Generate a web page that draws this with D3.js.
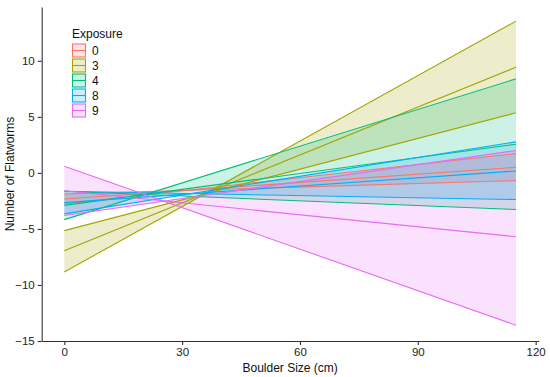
<!DOCTYPE html>
<html>
<head>
<meta charset="utf-8">
<script src="https://cdn.jsdelivr.net/npm/d3@7"></script>
<style>
  body { margin: 0; background: #fff; }
  text { font-family: "Liberation Sans", Arial, sans-serif; }
</style>
</head>
<body>
<div id="chart"></div>
<script>
// boulder sizes where each fitted line / band edge was read
var boulderX = [0, 115];

var exposures = ["0", "3", "4", "8", "9"];
var colours = ["#F8766D", "#A3A500", "#00BF7D", "#00B0F6", "#E76BF3"];

// fitted line and the two band edges per exposure (values at boulderX)
var fit0 = [-2.33, 0.5],  edgeA0 = [-2.77, 1.72],  edgeB0 = [-1.88, -0.69];
var fit3 = [-6.94, 9.43], edgeA3 = [-5.15, 5.36],  edgeB3 = [-8.84, 13.54];
var fit4 = [-2.9, 2.56],  edgeA4 = [-4.17, 8.39],  edgeB4 = [-1.64, -3.27];
var fit8 = [-2.65, 0.17], edgeA8 = [-3.66, 2.77],  edgeB8 = [-1.64, -2.38];
var fit9 = [-1.6, -5.7],  edgeA9 = [0.6, -13.6],   edgeB9 = [-3.8, 2.0];

var xTicks = [0, 30, 60, 90, 120];
var yTicks = [-15, -10, -5, 0, 5, 10];

var fits = [fit0, fit3, fit4, fit8, fit9];
var edgesA = [edgeA0, edgeA3, edgeA4, edgeA8, edgeA9];
var edgesB = [edgeB0, edgeB3, edgeB4, edgeB8, edgeB9];

var groups = exposures.map(function(e, i) {
  return {
    name: e,
    colour: colours[i],
    pts: boulderX.map(function(x, j) {
      return {x: x, fit: fits[i][j], a: edgesA[i][j], b: edgesB[i][j]};
    })
  };
});

var width = 550, height = 377;

var svg = d3.select("#chart").append("svg")
  .attr("width", width)
  .attr("height", height);

var xScale = d3.scaleLinear().domain([-5.75, 120.75]).range([41.7, 538.6]);
var yScale = d3.scaleLinear().domain([-15, 14.8]).range([341, 7]);

var band = d3.area()
  .x(function(d) { return xScale(d.x); })
  .y0(function(d) { return yScale(d.a); })
  .y1(function(d) { return yScale(d.b); });

var lineOf = function(key) {
  return d3.line()
    .x(function(d) { return xScale(d.x); })
    .y(function(d) { return yScale(d[key]); });
};

// ribbons
var g = svg.append("g");
groups.forEach(function(grp) {
  g.append("path")
    .attr("d", band(grp.pts))
    .attr("fill", grp.colour)
    .attr("fill-opacity", 0.2)
    .attr("stroke", "none");
});
groups.forEach(function(grp) {
  ["a", "b", "fit"].forEach(function(k) {
    g.append("path")
      .attr("d", lineOf(k)(grp.pts))
      .attr("fill", "none")
      .attr("stroke", grp.colour)
      .attr("stroke-width", 1.1);
  });
});

// axes
var xAxis = d3.axisBottom(xScale).tickValues(xTicks).tickSize(4).tickPadding(3).tickSizeOuter(0);
var yAxis = d3.axisLeft(yScale).tickValues(yTicks).tickSize(4).tickPadding(3).tickSizeOuter(0);

var gx = svg.append("g")
  .attr("transform", "translate(0," + 341 + ")")
  .call(xAxis);
var gy = svg.append("g")
  .attr("transform", "translate(" + 41.7 + ",0)")
  .call(yAxis);

[gx, gy].forEach(function(ax) {
  ax.select(".domain").attr("stroke", "#333").attr("stroke-width", 1.1);
  ax.selectAll(".tick line").attr("stroke", "#333").attr("stroke-width", 1.1);
  ax.selectAll(".tick text").attr("fill", "#222").style("font-size", "11.5px");
});

svg.append("text")
  .attr("x", (41.7 + 538.6) / 2)
  .attr("y", 372)
  .attr("text-anchor", "middle")
  .attr("fill", "#111")
  .style("font-size", "12px")
  .text("Boulder Size (cm)");

svg.append("text")
  .attr("transform", "translate(14," + ((7 + 341) / 2) + ") rotate(-90)")
  .attr("text-anchor", "middle")
  .attr("fill", "#111")
  .style("font-size", "12px")
  .text("Number of Flatworms");

// legend
var legend = svg.append("g").attr("transform", "translate(72,30)");
legend.append("text")
  .attr("x", 0)
  .attr("y", 8)
  .attr("fill", "#111")
  .style("font-size", "12px")
  .text("Exposure");

groups.forEach(function(grp, i) {
  var ky = 13.5 + i * 15;
  legend.append("rect")
    .attr("x", 0.5).attr("y", ky + 0.5)
    .attr("width", 13).attr("height", 13)
    .attr("fill", grp.colour).attr("fill-opacity", 0.2)
    .attr("stroke", grp.colour).attr("stroke-width", 1.1);
  legend.append("line")
    .attr("x1", 0.5).attr("x2", 13.5)
    .attr("y1", ky + 7).attr("y2", ky + 7)
    .attr("stroke", grp.colour).attr("stroke-width", 1.1);
  legend.append("text")
    .attr("x", 20)
    .attr("y", ky + 11.5)
    .attr("fill", "#111")
    .style("font-size", "12px")
    .text(grp.name);
});
</script>
</body>
</html>
